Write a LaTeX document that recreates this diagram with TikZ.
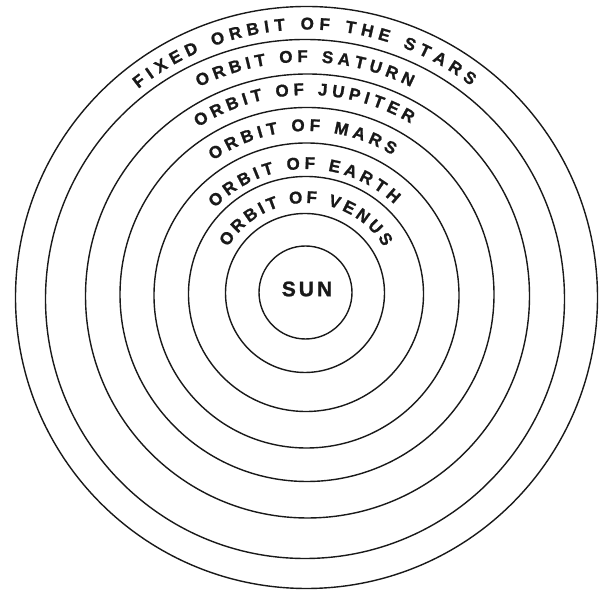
\documentclass[tikz,border=0pt]{standalone}
\usepackage{fontspec}
\setmainfont{Liberation Sans}
\newfontfamily\heavyfont{Liberation Sans}[FakeBold=1.2]
\usetikzlibrary{calc}
\newcommand\orbitfont{\heavyfont\fontsize{17pt}{20pt}\selectfont\bfseries}
\newcommand\sunfont{\heavyfont\fontsize{21pt}{24pt}\selectfont\bfseries}
\newbox\arcbox
\def\gapitem{*}
\newcommand\measurechars[1]{%
  \foreach \ch in {#1}{%
    \setbox\arcbox=\hbox{\orbitfont\ch}%
    \expandafter\xdef\csname cw@\ch\endcsname{\the\wd\arcbox}%
  }%
  \expandafter\gdef\csname cw@*\endcsname{4.7pt}%
}
\newcommand\arclabel[6]{% #1 name, #2 center, #3 radius, #4 tracking, #5 mid angle, #6 list
  \xdef\arctot{0pt}%
  \foreach \ch in {#6}{%
    \xdef\arctot{\the\dimexpr\arctot+\csname cw@\ch\endcsname+#4pt\relax}%
  }%
  \xdef\arcpos{\the\dimexpr(#4pt-\arctot)/2\relax}%
  \foreach \ch [count=\k] in {#6}{%
    \xdef\arcmid{\the\dimexpr\arcpos+\csname cw@\ch\endcsname/2\relax}%
    \xdef\arcpos{\the\dimexpr\arcpos+\csname cw@\ch\endcsname+#4pt\relax}%
    \pgfmathsetmacro\arcang{#5-(\arcmid)/#3*57.29578}%
    \ifx\ch\gapitem\else
      \node[orbitlbl,rotate=\arcang-90] (#1-\k) at ($(#2)+(\arcang:#3pt)$) {\ch};
    \fi
  }%
}
\begin{document}
\measurechars{A,B,D,E,F,H,I,J,M,N,O,P,R,S,T,U,V,X}%
\begin{tikzpicture}[x=1pt,y=1pt,
  orbit/.style={line width=1.4pt, draw=black!90},
  orbitlbl/.style={font=\orbitfont, inner sep=0pt, anchor=base, text=black!90}]
\useasboundingbox (0,0) rectangle (600,593);
\coordinate (c1) at (306.5,295.5);
\coordinate (c2) at (305,294);
\coordinate (c3) at (307.5,297);
\coordinate (c4) at (307,298.5);
\coordinate (c5) at (306.5,297.5);
\coordinate (c6) at (306,299);
\coordinate (c7) at (305,300);
\coordinate (c8) at (305.5,300.5);
\draw[orbit] (c1) circle[radius=291];
\draw[orbit] (c2) circle[radius=259.5];
\draw[orbit] (c3) circle[radius=222];
\draw[orbit] (c4) circle[radius=187];
\draw[orbit] (c5) circle[radius=152.5];
\draw[orbit] (c6) circle[radius=117.5];
\draw[orbit] (c7) circle[radius=79.5];
\draw[orbit] (c8) circle[radius=46.5];
\node[font=\sunfont, inner sep=0pt, text=black!90] (sun) at (307,304) {S\kern3pt U\kern3pt N};
\arclabel{stars}{c1}{268}{5.3}{90.5}{F,I,X,E,D,*,O,R,B,I,T,*,O,F,*,T,H,E,*,S,T,A,R,S}
\arclabel{saturn}{c2}{237}{4.5}{90}{O,R,B,I,T,*,O,F,*,S,A,T,U,R,N}
\arclabel{jupiter}{c3}{201}{4.4}{91}{O,R,B,I,T,*,O,F,*,J,U,P,I,T,E,R}
\arclabel{mars}{c4}{163.5}{4.5}{91.7}{O,R,B,I,T,*,O,F,*,M,A,R,S}
\arclabel{earth}{c5}{126.5}{4.2}{91.2}{O,R,B,I,T,*,O,F,*,E,A,R,T,H}
\arclabel{venus}{c6}{91}{3.3}{90}{O,R,B,I,T,*,O,F,*,V,E,N,U,S}
\end{tikzpicture}
\end{document}
